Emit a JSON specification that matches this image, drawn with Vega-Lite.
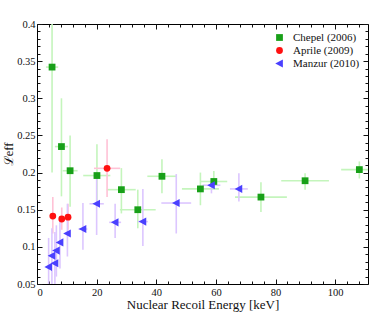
{
  "$schema": "https://vega.github.io/schema/vega-lite/v6.json",
  "autosize": "none",
  "width": 331,
  "height": 260,
  "padding": {"left": 37, "top": 24, "right": 6, "bottom": 29},
  "config": {
    "font": "Liberation Serif",
    "view": {"stroke": "#000", "strokeWidth": 1},
    "axis": {"domain": false, "grid": false, "labelFont": "Liberation Serif", "titleFont": "Liberation Serif", "labelColor": "#111", "titleColor": "#111", "tickColor": "#111", "titleFontWeight": "normal"},
    "legend": {"labelFont": "Liberation Serif"}
  },
  "data": {"values": [
    {"s": "Chepel (2006)", "x": 5.05, "y": 0.342, "xlo": 3.0, "xhi": 7.1, "ylo": 0.200, "yhi": 0.42},
    {"s": "Chepel (2006)", "x": 8.2, "y": 0.235, "xlo": 6.0, "xhi": 10.4, "ylo": 0.168, "yhi": 0.300},
    {"s": "Chepel (2006)", "x": 11.1, "y": 0.2025, "xlo": 8.6, "xhi": 13.6, "ylo": 0.154, "yhi": 0.250},
    {"s": "Chepel (2006)", "x": 20.1, "y": 0.196, "xlo": 15.5, "xhi": 24.6, "ylo": 0.155, "yhi": 0.238},
    {"s": "Chepel (2006)", "x": 28.3, "y": 0.177, "xlo": 23.4, "xhi": 33.1, "ylo": 0.145, "yhi": 0.206},
    {"s": "Chepel (2006)", "x": 33.8, "y": 0.150, "xlo": 27.8, "xhi": 39.8, "ylo": 0.125, "yhi": 0.177},
    {"s": "Chepel (2006)", "x": 41.9, "y": 0.195, "xlo": 37.0, "xhi": 46.8, "ylo": 0.172, "yhi": 0.218},
    {"s": "Chepel (2006)", "x": 54.8, "y": 0.178, "xlo": 48.6, "xhi": 61.0, "ylo": 0.156, "yhi": 0.200},
    {"s": "Chepel (2006)", "x": 59.3, "y": 0.188, "xlo": 54.8, "xhi": 63.8, "ylo": 0.181, "yhi": 0.202},
    {"s": "Chepel (2006)", "x": 75.1, "y": 0.167, "xlo": 66.4, "xhi": 83.8, "ylo": 0.147, "yhi": 0.187},
    {"s": "Chepel (2006)", "x": 89.9, "y": 0.189, "xlo": 81.9, "xhi": 97.9, "ylo": 0.177, "yhi": 0.199},
    {"s": "Chepel (2006)", "x": 108.1, "y": 0.204, "xlo": 102.0, "xhi": 114.0, "ylo": 0.192, "yhi": 0.215},
    {"s": "Aprile (2009)", "x": 5.3, "y": 0.1415, "xlo": 4.6, "xhi": 6.0, "ylo": 0.118, "yhi": 0.167},
    {"s": "Aprile (2009)", "x": 8.3, "y": 0.1375, "xlo": 7.6, "xhi": 9.0, "ylo": 0.123, "yhi": 0.153},
    {"s": "Aprile (2009)", "x": 10.4, "y": 0.140, "xlo": 9.7, "xhi": 11.1, "ylo": 0.123, "yhi": 0.158},
    {"s": "Aprile (2009)", "x": 23.5, "y": 0.2057, "xlo": 19.1, "xhi": 27.9, "ylo": 0.167, "yhi": 0.245},
    {"s": "Manzur (2010)", "x": 3.9, "y": 0.073, "xlo": 3.4, "xhi": 4.4, "ylo": 0.03, "yhi": 0.112},
    {"s": "Manzur (2010)", "x": 5.0, "y": 0.088, "xlo": 4.5, "xhi": 5.5, "ylo": 0.03, "yhi": 0.125},
    {"s": "Manzur (2010)", "x": 6.0, "y": 0.078, "xlo": 5.5, "xhi": 6.5, "ylo": 0.03, "yhi": 0.120},
    {"s": "Manzur (2010)", "x": 6.5, "y": 0.095, "xlo": 6.0, "xhi": 7.0, "ylo": 0.060, "yhi": 0.129},
    {"s": "Manzur (2010)", "x": 7.7, "y": 0.106, "xlo": 7.1, "xhi": 8.3, "ylo": 0.071, "yhi": 0.138},
    {"s": "Manzur (2010)", "x": 10.2, "y": 0.118, "xlo": 9.5, "xhi": 10.9, "ylo": 0.087, "yhi": 0.158},
    {"s": "Manzur (2010)", "x": 15.4, "y": 0.124, "xlo": 13.9, "xhi": 16.9, "ylo": 0.096, "yhi": 0.159},
    {"s": "Manzur (2010)", "x": 20.0, "y": 0.158, "xlo": 17.6, "xhi": 22.4, "ylo": 0.116, "yhi": 0.196},
    {"s": "Manzur (2010)", "x": 26.2, "y": 0.133, "xlo": 24.2, "xhi": 28.2, "ylo": 0.112, "yhi": 0.158},
    {"s": "Manzur (2010)", "x": 35.5, "y": 0.134, "xlo": 33.8, "xhi": 37.2, "ylo": 0.101, "yhi": 0.178},
    {"s": "Manzur (2010)", "x": 46.7, "y": 0.159, "xlo": 41.7, "xhi": 51.7, "ylo": 0.118, "yhi": 0.198},
    {"s": "Manzur (2010)", "x": 58.5, "y": 0.183, "xlo": 55.5, "xhi": 61.5, "ylo": 0.172, "yhi": 0.190},
    {"s": "Manzur (2010)", "x": 67.7, "y": 0.178, "xlo": 64.7, "xhi": 70.7, "ylo": 0.161, "yhi": 0.199}
  ]},
  "resolve": {"axis": {"x": "independent", "y": "independent"}},
  "layer": [
    {
      "transform": [{"filter": "datum.s === 'Chepel (2006)'"}],
      "mark": {"type": "rule", "clip": true, "strokeWidth": 1.6, "color": "#c4f5bc"},
      "encoding": {
        "x": {"field": "xlo", "type": "quantitative", "scale": {"domain": [0, 111], "nice": false, "zero": false}, "axis": null},
        "x2": {"field": "xhi"},
        "y": {"field": "y", "type": "quantitative", "scale": {"domain": [0.05, 0.4], "nice": false, "zero": false}, "axis": null}
      }
    },
    {
      "transform": [{"filter": "datum.s === 'Chepel (2006)'"}],
      "mark": {"type": "rule", "clip": true, "strokeWidth": 1.6, "color": "#c4f5bc"},
      "encoding": {
        "x": {"field": "x", "type": "quantitative", "axis": null},
        "y": {"field": "ylo", "type": "quantitative", "axis": null},
        "y2": {"field": "yhi"}
      }
    },
    {
      "transform": [{"filter": "datum.s === 'Aprile (2009)'"}],
      "mark": {"type": "rule", "clip": true, "strokeWidth": 1.6, "color": "#ffc2d6"},
      "encoding": {
        "x": {"field": "xlo", "type": "quantitative", "axis": null},
        "x2": {"field": "xhi"},
        "y": {"field": "y", "type": "quantitative", "axis": null}
      }
    },
    {
      "transform": [{"filter": "datum.s === 'Aprile (2009)'"}],
      "mark": {"type": "rule", "clip": true, "strokeWidth": 1.6, "color": "#ffc2d6"},
      "encoding": {
        "x": {"field": "x", "type": "quantitative", "axis": null},
        "y": {"field": "ylo", "type": "quantitative", "axis": null},
        "y2": {"field": "yhi"}
      }
    },
    {
      "transform": [{"filter": "datum.s === 'Manzur (2010)'"}],
      "mark": {"type": "rule", "clip": true, "strokeWidth": 1.6, "color": "#dcc6ff"},
      "encoding": {
        "x": {"field": "xlo", "type": "quantitative", "axis": null},
        "x2": {"field": "xhi"},
        "y": {"field": "y", "type": "quantitative", "axis": null}
      }
    },
    {
      "transform": [{"filter": "datum.s === 'Manzur (2010)'"}],
      "mark": {"type": "rule", "clip": true, "strokeWidth": 1.6, "color": "#dcc6ff"},
      "encoding": {
        "x": {"field": "x", "type": "quantitative", "axis": null},
        "y": {"field": "ylo", "type": "quantitative", "axis": null},
        "y2": {"field": "yhi"}
      }
    },
    {
      "mark": {"type": "point", "filled": true, "opacity": 1, "clip": true, "size": 46},
      "encoding": {
        "x": {"field": "x", "type": "quantitative", "axis": {"orient": "bottom", "values": [0, 20, 40, 60, 80, 100], "tickSize": -5, "labelPadding": 8, "labelFontSize": 10.5, "title": "Nuclear Recoil Energy [keV]", "titleFontSize": 13, "titlePadding": 1}},
        "y": {"field": "y", "type": "quantitative", "axis": {"orient": "left", "values": [0.05, 0.1, 0.15, 0.2, 0.25, 0.3, 0.35, 0.4], "format": "~g", "tickSize": -5, "labelPadding": 7, "labelFontSize": 10.5, "title": "ℒeff", "titleFontSize": 12.5, "titlePadding": 1}},
        "color": {"field": "s", "type": "nominal", "scale": {"domain": ["Chepel (2006)", "Aprile (2009)", "Manzur (2010)"], "range": ["#18a018", "#ff1010", "#4a40ff"]}, "legend": {"title": null, "orient": "top-right", "offset": 8, "padding": 0, "labelFont": "Liberation Serif", "labelFontSize": 11, "labelColor": "#111", "labelOffset": 8, "rowPadding": 1, "symbolSize": 46}},
        "shape": {"field": "s", "type": "nominal", "scale": {"domain": ["Chepel (2006)", "Aprile (2009)", "Manzur (2010)"], "range": ["square", "circle", "M-1.25,0L1,-1.2L1,1.2Z"]}, "legend": {"title": null, "labelFont": "Liberation Serif"}}
      }
    },
    {
      "mark": {"type": "point", "opacity": 0},
      "encoding": {
        "x": {"field": "x", "type": "quantitative", "axis": {"orient": "bottom", "values": [4, 8, 12, 16, 24, 28, 32, 36, 44, 48, 52, 56, 64, 68, 72, 76, 84, 88, 92, 96, 104, 108], "tickSize": -3, "labels": false, "title": null}},
        "y": {"field": "y", "type": "quantitative", "axis": {"orient": "left", "values": [0.06, 0.07, 0.08, 0.09, 0.11, 0.12, 0.13, 0.14, 0.16, 0.17, 0.18, 0.19, 0.21, 0.22, 0.23, 0.24, 0.26, 0.27, 0.28, 0.29, 0.31, 0.32, 0.33, 0.34, 0.36, 0.37, 0.38, 0.39], "tickSize": -3, "labels": false, "title": null}}
      }
    },
    {
      "mark": {"type": "point", "opacity": 0},
      "encoding": {
        "x": {"field": "x", "type": "quantitative", "axis": {"orient": "top", "values": [0, 20, 40, 60, 80, 100], "tickSize": -5, "labels": false, "title": null}},
        "y": {"field": "y", "type": "quantitative", "axis": {"orient": "right", "values": [0.05, 0.1, 0.15, 0.2, 0.25, 0.3, 0.35, 0.4], "tickSize": -5, "labels": false, "title": null}}
      }
    },
    {
      "mark": {"type": "point", "opacity": 0},
      "encoding": {
        "x": {"field": "x", "type": "quantitative", "axis": {"orient": "top", "values": [4, 8, 12, 16, 24, 28, 32, 36, 44, 48, 52, 56, 64, 68, 72, 76, 84, 88, 92, 96, 104, 108], "tickSize": -3, "labels": false, "title": null}},
        "y": {"field": "y", "type": "quantitative", "axis": {"orient": "right", "values": [0.06, 0.07, 0.08, 0.09, 0.11, 0.12, 0.13, 0.14, 0.16, 0.17, 0.18, 0.19, 0.21, 0.22, 0.23, 0.24, 0.26, 0.27, 0.28, 0.29, 0.31, 0.32, 0.33, 0.34, 0.36, 0.37, 0.38, 0.39], "tickSize": -3, "labels": false, "title": null}}
      }
    }
  ]
}
